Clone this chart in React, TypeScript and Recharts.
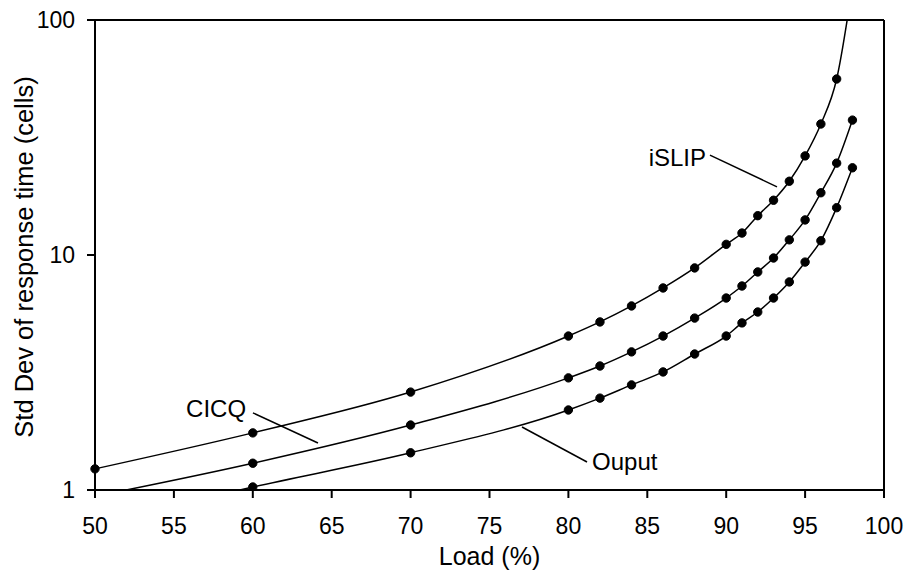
import React from 'react';
import { LineChart, Line, XAxis, YAxis, ReferenceLine, ReferenceDot } from 'recharts';

// load (%) sampled by the simulation
const load = [50, 60, 70, 80, 82, 84, 86, 88, 90, 91, 92, 93, 94, 95, 96, 97, 98];
// std dev of response time (cells)
const islip = [1.23, 1.75, 2.61, 4.52, 5.19, 6.07, 7.24, 8.81, 11.1, 12.4, 14.7, 17.1, 20.6, 26.4, 36.1, 56.1, 140];
const cicq = [0.94, 1.3, 1.89, 3.0, 3.37, 3.87, 4.52, 5.39, 6.56, 7.38, 8.47, 9.71, 11.6, 14.1, 18.4, 24.6, 37.5];
const ouput = [0.72, 1.03, 1.44, 2.19, 2.46, 2.8, 3.18, 3.79, 4.52, 5.14, 5.72, 6.56, 7.68, 9.33, 11.5, 15.9, 23.5];

const xTicks = [50, 55, 60, 65, 70, 75, 80, 85, 90, 95, 100];
const yTicks = [1, 10, 100];

// callout labels with their leader lines (data coordinates)
const callouts = [
  { name: 'iSLIP', text: [88.85, 26.1], from: [88.97, 26.6], to: [93.22, 19.5], side: 'left' },
  { name: 'CICQ', text: [59.7, 2.23], from: [60.01, 2.13], to: [64.13, 1.585], side: 'left' },
  { name: 'Ouput', text: [81.37, 1.316], from: [77.06, 1.854], to: [81.18, 1.316], side: 'right' },
];

const data = load.map((x, i) => ({ load: x, islip: islip[i], cicq: cicq[i], ouput: ouput[i] }));

const font = 'Liberation Sans, Arial, sans-serif';
const tickStyle = { fill: '#000', fontSize: 23, fontFamily: font };

export default function App() {
  const series = ['islip', 'cicq', 'ouput'];
  return (
    <div style={{ position: 'absolute', left: 0, top: 0, background: '#fff' }}>
      <LineChart width={911} height={572} data={data} margin={{ top: 20, right: 27, bottom: 22, left: 0 }}>
        <XAxis
          dataKey="load"
          type="number"
          domain={[50, 100]}
          ticks={xTicks}
          tick={tickStyle}
          tickSize={8}
          tickMargin={20}
          height={60}
          stroke="#000"
          strokeWidth={2}
          label={{
            content: (p: any) => (
              <text
                x={p.viewBox.x + p.viewBox.width / 2}
                y={p.viewBox.y + 75}
                textAnchor="middle"
                fontSize={25}
                fontFamily={font}
                fill="#000"
              >
                Load (%)
              </text>
            ),
          }}
        />
        <YAxis
          scale="log"
          domain={[1, 100]}
          ticks={yTicks}
          allowDataOverflow
          tick={tickStyle}
          tickSize={8}
          tickMargin={12}
          width={95}
          stroke="#000"
          strokeWidth={2}
          label={{
            content: (p: any) => {
              const cx = p.viewBox.x + 24;
              const cy = p.viewBox.y + p.viewBox.height / 2 + 2;
              return (
                <text
                  x={cx}
                  y={cy}
                  transform={`rotate(-90 ${cx} ${cy})`}
                  textAnchor="middle"
                  dominantBaseline="central"
                  fontSize={25.5}
                  fontFamily={font}
                  fill="#000"
                >
                  Std Dev of response time (cells)
                </text>
              );
            },
          }}
        />
        <ReferenceLine y={100} stroke="#000" strokeWidth={2} />
        <ReferenceLine x={100} stroke="#000" strokeWidth={2} />
        {series.map((k) => (
          <Line
            key={k}
            dataKey={k}
            type="monotone"
            stroke="#000"
            strokeWidth={1.5}
            dot={{ r: 4.2, fill: '#000', stroke: '#000', strokeWidth: 1 }}
            activeDot={false}
            isAnimationActive={false}
          />
        ))}
        {callouts.map((c) => (
          <ReferenceLine
            key={c.name + '-leader'}
            segment={[
              { x: c.from[0], y: c.from[1] },
              { x: c.to[0], y: c.to[1] },
            ]}
            stroke="#000"
            strokeWidth={1.5}
          />
        ))}
        {callouts.map((c) => (
          <ReferenceDot
            key={c.name}
            x={c.text[0]}
            y={c.text[1]}
            r={0}
            fill="none"
            stroke="none"
            label={{
              value: c.name,
              position: c.side as any,
              offset: 2,
              fill: '#000',
              fontSize: 24,
              fontFamily: font,
            }}
          />
        ))}
      </LineChart>
    </div>
  );
}
